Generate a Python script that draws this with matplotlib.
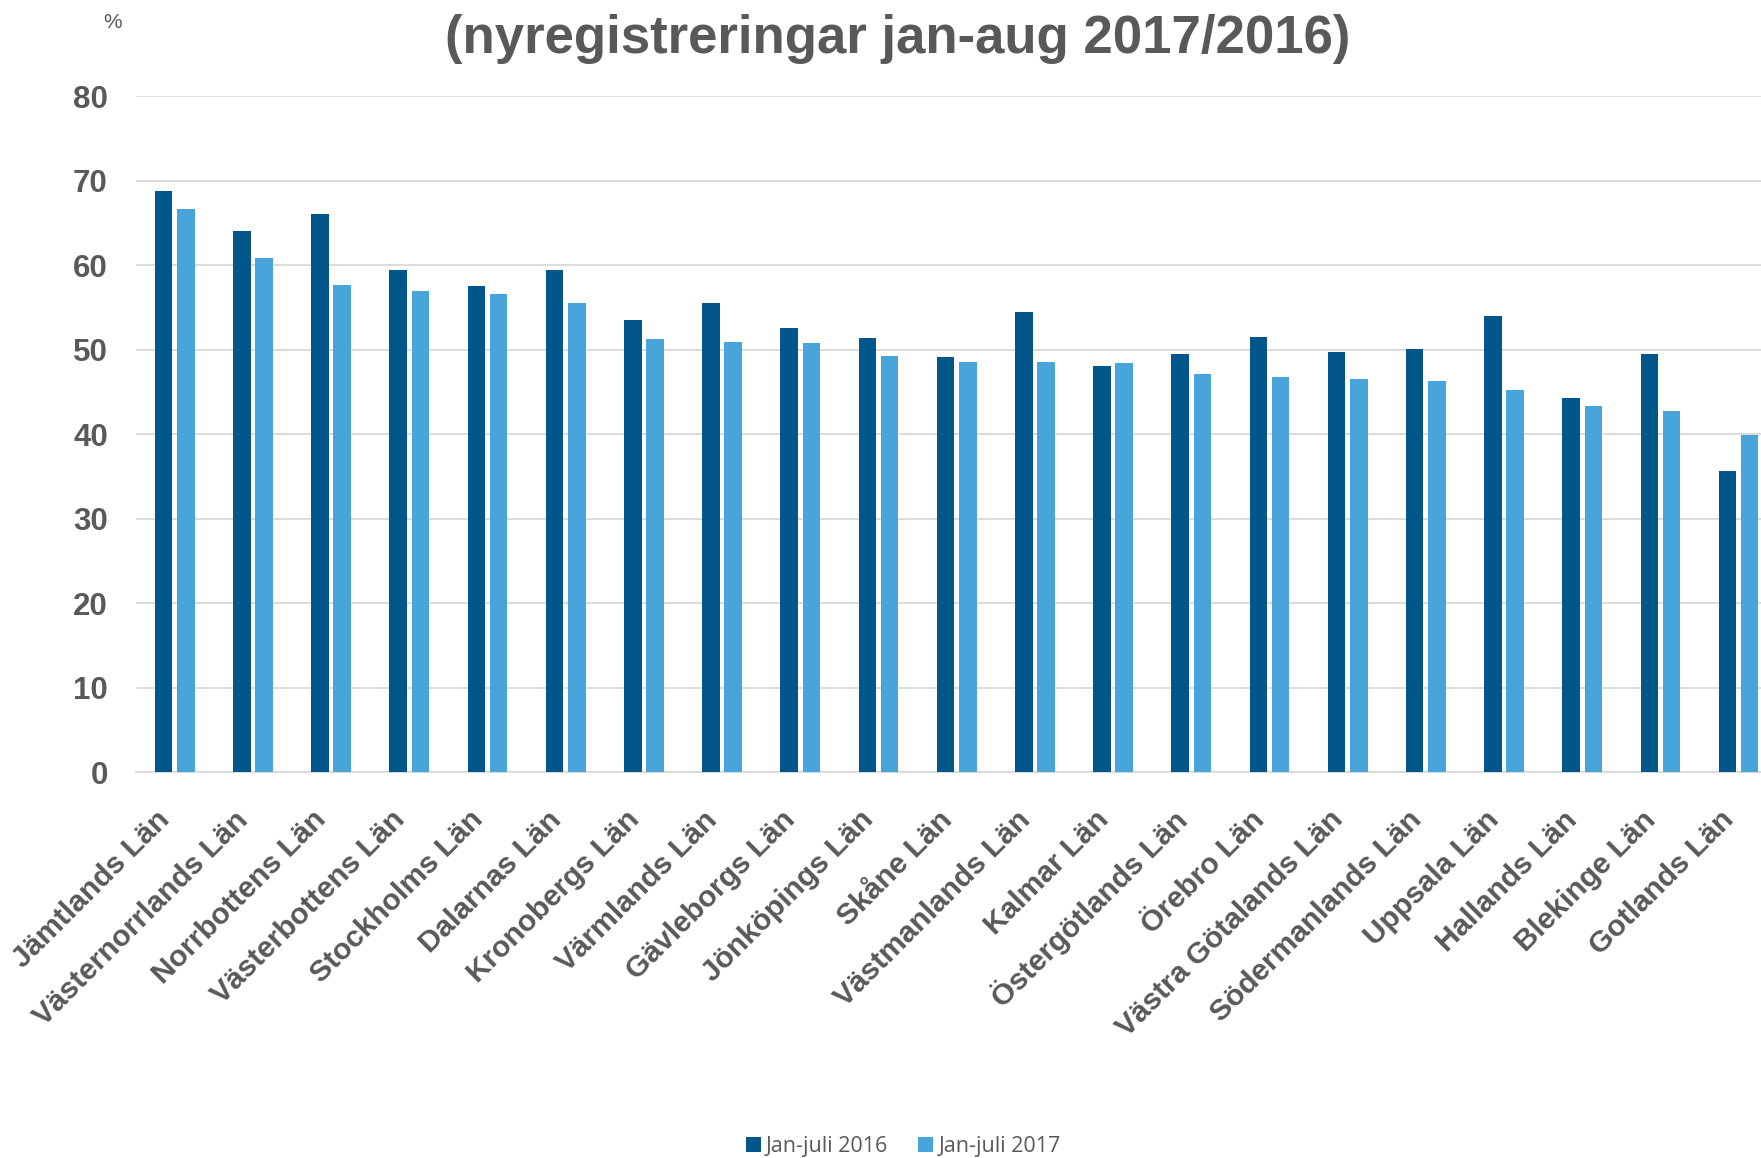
import numpy as np
import matplotlib
matplotlib.use('Agg')
import matplotlib.pyplot as plt
import matplotlib.transforms as mtransforms
from matplotlib import font_manager

# Data
lan = ['Jämtlands Län', 'Västernorrlands Län', 'Norrbottens Län', 'Västerbottens Län',
       'Stockholms Län', 'Dalarnas Län', 'Kronobergs Län', 'Värmlands Län',
       'Gävleborgs Län', 'Jönköpings Län', 'Skåne Län', 'Västmanlands Län',
       'Kalmar Län', 'Östergötlands Län', 'Örebro Län', 'Västra Götalands Län',
       'Södermanlands Län', 'Uppsala Län', 'Hallands Län', 'Blekinge Län', 'Gotlands Län']
jan_juli_2016 = [68.8, 64.0, 66.0, 59.4, 57.5, 59.4, 53.5, 55.5, 52.6, 51.4, 49.1,
                 54.5, 48.1, 49.5, 51.5, 49.7, 50.1, 54.0, 44.3, 49.5, 35.7]
jan_juli_2017 = [66.7, 60.8, 57.6, 56.9, 56.6, 55.5, 51.3, 50.9, 50.8, 49.2, 48.6,
                 48.6, 48.4, 47.1, 46.8, 46.5, 46.3, 45.2, 43.3, 42.8, 39.9]
yticks = [0, 10, 20, 30, 40, 50, 60, 70, 80]

dark = '#02568A'
light = '#48A5DB'
grey = '#595959'

installed = {f.name for f in font_manager.fontManager.ttflist}
title_family = 'Liberation Sans Narrow' if 'Liberation Sans Narrow' in installed else 'Liberation Sans'
plt.rcParams['font.family'] = ['Liberation Sans', 'DejaVu Sans']

fig = plt.figure(figsize=(17.61, 11.58), dpi=100)
ax = fig.add_axes([0.077, 0.333, 0.9325, 0.584])

x = np.arange(len(lan))
w = 0.224
off = 0.142
ax.bar(x - off, jan_juli_2016, w, color=dark, label='Jan-juli 2016', zorder=3)
ax.bar(x + off, jan_juli_2017, w, color=light, label='Jan-juli 2017', zorder=3)

ax.set_xlim(-0.5, len(lan) - 0.5)
ax.set_ylim(0, 80)
ax.set_yticks(yticks)
ax.yaxis.grid(True, color='#D9D9D9', linewidth=1.3, zorder=0)
ax.set_axisbelow(True)
for s in ['top', 'right', 'left']:
    ax.spines[s].set_visible(False)
ax.spines['bottom'].set_color('#D9D9D9')
ax.spines['bottom'].set_linewidth(1.3)
ax.tick_params(axis='both', length=0)
ax.tick_params(axis='y', pad=20)

for lbl in ax.get_yticklabels():
    lbl.set_fontsize(22.5)
    lbl.set_fontweight('bold')
    lbl.set_color(grey)

ax.set_xticks(x)
ax.set_xticklabels(lan, rotation=45, ha='right', va='center', rotation_mode='anchor',
                   fontsize=21.5, fontweight='bold', color=grey)
ax.tick_params(axis='x', pad=31)
shift = mtransforms.ScaledTranslation(-0.09, 0, fig.dpi_scale_trans)
for lbl in ax.get_xticklabels():
    lbl.set_transform(lbl.get_transform() + shift)

fig.text(0.5095, 0.954, '(nyregistreringar jan-aug 2017/2016)', ha='center', va='baseline',
         fontsize=38, fontweight='bold', color=grey, family=title_family)
fig.text(0.064, 0.981, '%', ha='center', va='center', fontsize=15, color=grey)

fig.legend(loc='center', bbox_to_anchor=(0.513, 0.0095), ncol=2, frameon=False,
           prop={'family': 'Open Sans', 'size': 15.5}, labelcolor=grey,
           handlelength=0.7, handleheight=0.7, handletextpad=0.25, columnspacing=1.4)

fig.savefig('out.png', dpi=100)
